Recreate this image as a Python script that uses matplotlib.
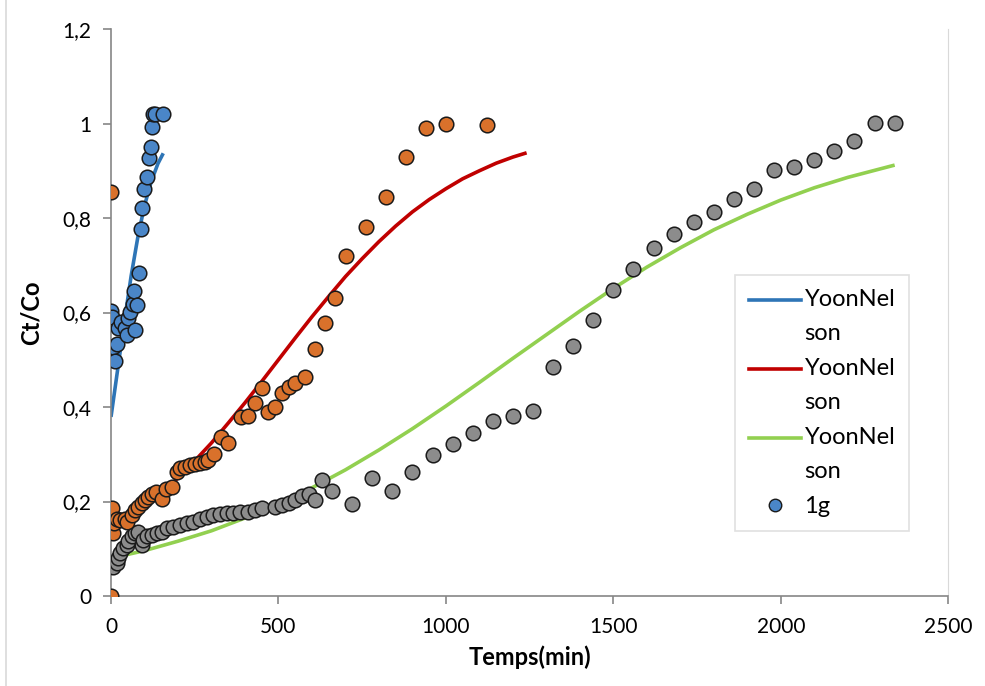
import numpy as np
import matplotlib.pyplot as plt
from matplotlib.lines import Line2D
from matplotlib.legend_handler import HandlerLine2D

# Yoon-Nelson model curves
t_fit_1 = [0, 20, 40, 60, 80, 100, 120, 140, 156]
y_fit_1 = [0.379, 0.480, 0.581, 0.677, 0.759, 0.826, 0.877, 0.915, 0.937]

t_fit_2 = [0, 50, 100, 150, 200, 250, 300, 350, 400, 450, 500, 550, 600, 650, 700,
           750, 800, 850, 900, 950, 1000, 1050, 1100, 1150, 1200, 1241]
y_fit_2 = [0.138, 0.161, 0.187, 0.217, 0.250, 0.286, 0.324, 0.366, 0.409, 0.454,
           0.500, 0.546, 0.591, 0.634, 0.676, 0.714, 0.750, 0.783, 0.813, 0.839,
           0.862, 0.883, 0.900, 0.916, 0.929, 0.938]

t_fit_3 = [0, 100, 200, 300, 400, 500, 600, 700, 800, 900, 1000, 1100, 1200, 1300,
           1400, 1500, 1600, 1700, 1800, 1900, 2000, 2100, 2200, 2340]
y_fit_3 = [0.080, 0.096, 0.116, 0.138, 0.165, 0.195, 0.229, 0.267, 0.309, 0.354,
           0.402, 0.452, 0.503, 0.553, 0.603, 0.651, 0.696, 0.737, 0.775, 0.808,
           0.838, 0.864, 0.886, 0.912]

# experimental points
t_1g = [0, 2, 7, 12, 19, 22, 30, 42, 47, 52, 57, 65, 69, 72, 79, 84, 89, 94, 99,
        108, 113, 118, 123, 126, 131, 156]
y_1g = [0.604, 0.591, 0.528, 0.497, 0.533, 0.567, 0.580, 0.567, 0.552, 0.588, 0.602,
        0.619, 0.645, 0.564, 0.616, 0.684, 0.776, 0.821, 0.862, 0.887, 0.928, 0.951,
        0.993, 1.020, 1.020, 1.020]

t_2 = [0, 0, 2, 7, 10, 17, 27, 42, 47, 62, 72, 82, 92, 101, 111, 121, 134, 153, 164,
       181, 196, 206, 221, 236, 251, 266, 281, 291, 309, 328, 350, 387, 410, 430, 450,
       470, 490, 510, 530, 550, 579, 609, 639, 669, 701, 761, 820, 881, 941, 1000, 1122]
y_2 = [0.0, 0.855, 0.186, 0.133, 0.154, 0.164, 0.161, 0.164, 0.157, 0.171, 0.182,
       0.189, 0.196, 0.203, 0.210, 0.216, 0.221, 0.205, 0.226, 0.231, 0.263, 0.270,
       0.274, 0.277, 0.279, 0.281, 0.284, 0.288, 0.300, 0.336, 0.323, 0.378, 0.381,
       0.409, 0.440, 0.390, 0.401, 0.430, 0.443, 0.451, 0.464, 0.522, 0.577, 0.630,
       0.720, 0.780, 0.844, 0.930, 0.991, 1.000, 0.997]

t_3 = [0, 7, 17, 22, 27, 37, 47, 52, 62, 72, 82, 92, 97, 107, 121, 136, 151, 166, 186,
       206, 226, 246, 266, 286, 306, 326, 346, 365, 385, 410, 430, 450, 490, 510, 530,
       550, 570, 590, 610, 630, 660, 720, 780, 840, 900, 960, 1020, 1080, 1140, 1200,
       1260, 1320, 1380, 1440, 1500, 1560, 1620, 1680, 1740, 1800, 1860, 1920, 1980,
       2040, 2100, 2160, 2220, 2280, 2340]
y_3 = [0.066, 0.062, 0.070, 0.080, 0.090, 0.102, 0.108, 0.116, 0.126, 0.133, 0.135,
       0.108, 0.118, 0.126, 0.129, 0.133, 0.136, 0.143, 0.147, 0.150, 0.154, 0.157,
       0.162, 0.167, 0.171, 0.174, 0.175, 0.176, 0.178, 0.178, 0.182, 0.186, 0.189,
       0.193, 0.196, 0.203, 0.211, 0.216, 0.203, 0.246, 0.222, 0.195, 0.249, 0.222,
       0.263, 0.299, 0.321, 0.346, 0.370, 0.380, 0.392, 0.485, 0.530, 0.584, 0.648,
       0.692, 0.737, 0.766, 0.792, 0.813, 0.840, 0.861, 0.902, 0.909, 0.923, 0.942,
       0.964, 1.002, 1.002]

x_ticks = [0, 500, 1000, 1500, 2000, 2500]
y_ticks = [0, 0.2, 0.4, 0.6, 0.8, 1, 1.2]
y_tick_labels = ['0', '0,2', '0,4', '0,6', '0,8', '1', '1,2']


class HandlerTopLine(HandlerLine2D):
    # put the legend line next to the first text line, like Excel does
    def create_artists(self, legend, orig_handle, xdescent, ydescent, width, height,
                       fontsize, trans):
        arts = super().create_artists(legend, orig_handle, xdescent, ydescent,
                                      width, height, fontsize, trans)
        for a in arts:
            a.set_ydata(np.asarray(a.get_ydata()) + 12)
        return arts


plt.rcParams['font.family'] = ['Lato', 'DejaVu Sans']

fig = plt.figure(figsize=(9.85, 6.86), dpi=100)
ax = fig.add_axes([0.1127, 0.1312, 0.8500, 0.8265])

# model lines (drawn under the markers)
ax.plot(t_fit_1, y_fit_1, color='#2E75B6', lw=2.6, zorder=2, solid_capstyle='butt')
ax.plot(t_fit_2, y_fit_2, color='#C00000', lw=2.6, zorder=2, solid_capstyle='butt')
ax.plot(t_fit_3, y_fit_3, color='#92D050', lw=2.6, zorder=2, solid_capstyle='butt')

mk = dict(marker='o', ls='none', ms=10.5, mec='#1a1a1a', mew=1.1, zorder=3)
ax.plot(t_3, y_3, mfc='#8C8C8C', **mk)
ax.plot(t_2, y_2, mfc='#D9712B', **mk)
ax.plot(t_1g, y_1g, mfc='#4A86C8', **mk)

ax.set_xlim(0, 2500)
ax.set_ylim(0, 1.2)
ax.set_xticks(x_ticks)
ax.set_yticks(y_ticks)
ax.set_yticklabels(y_tick_labels)
ax.tick_params(axis='both', labelsize=15, colors='#868686', labelcolor='black',
               length=6, width=1.2, direction='out')
ax.tick_params(axis='x', pad=9)
ax.tick_params(axis='y', pad=8)

ax.spines['top'].set_visible(False)
ax.spines['right'].set_color('#D9D9D9')
ax.spines['left'].set_color('#868686')
ax.spines['bottom'].set_color('#868686')
ax.spines['left'].set_linewidth(1.2)
ax.spines['bottom'].set_linewidth(1.2)

ax.set_xlabel('Temps(min)', fontsize=17, fontweight='bold', labelpad=6)
ax.set_ylabel('Ct/Co', fontsize=17, fontweight='bold', labelpad=14)

# outer chart border on the left
fig.add_artist(Line2D([0.006, 0.006], [0, 1], color='#D9D9D9', lw=1.2))

h1 = Line2D([], [], color='#2E75B6', lw=2.6)
h2 = Line2D([], [], color='#C00000', lw=2.6)
h3 = Line2D([], [], color='#92D050', lw=2.6)
h4 = Line2D([], [], marker='o', ls='none', ms=9, mfc='#4A86C8', mec='#1a1a1a', mew=1.0)
labels = ['YoonNel\nson', 'YoonNel\nson', 'YoonNel\nson', '1g']
top = HandlerTopLine()
leg = fig.legend([h1, h2, h3, h4], labels, loc='upper left',
                 bbox_to_anchor=(0.746, 0.599), handler_map={h1: top, h2: top, h3: top},
                 fontsize=17, frameon=True, fancybox=False, edgecolor='#D9D9D9',
                 handlelength=2.2, handletextpad=0.15, labelspacing=0.6,
                 borderpad=0.6, borderaxespad=0)
leg.get_frame().set_linewidth(1.2)
for txt in leg.get_texts():
    txt.set_linespacing(1.75)

plt.savefig('out.png', dpi=100)
plt.close(fig)
